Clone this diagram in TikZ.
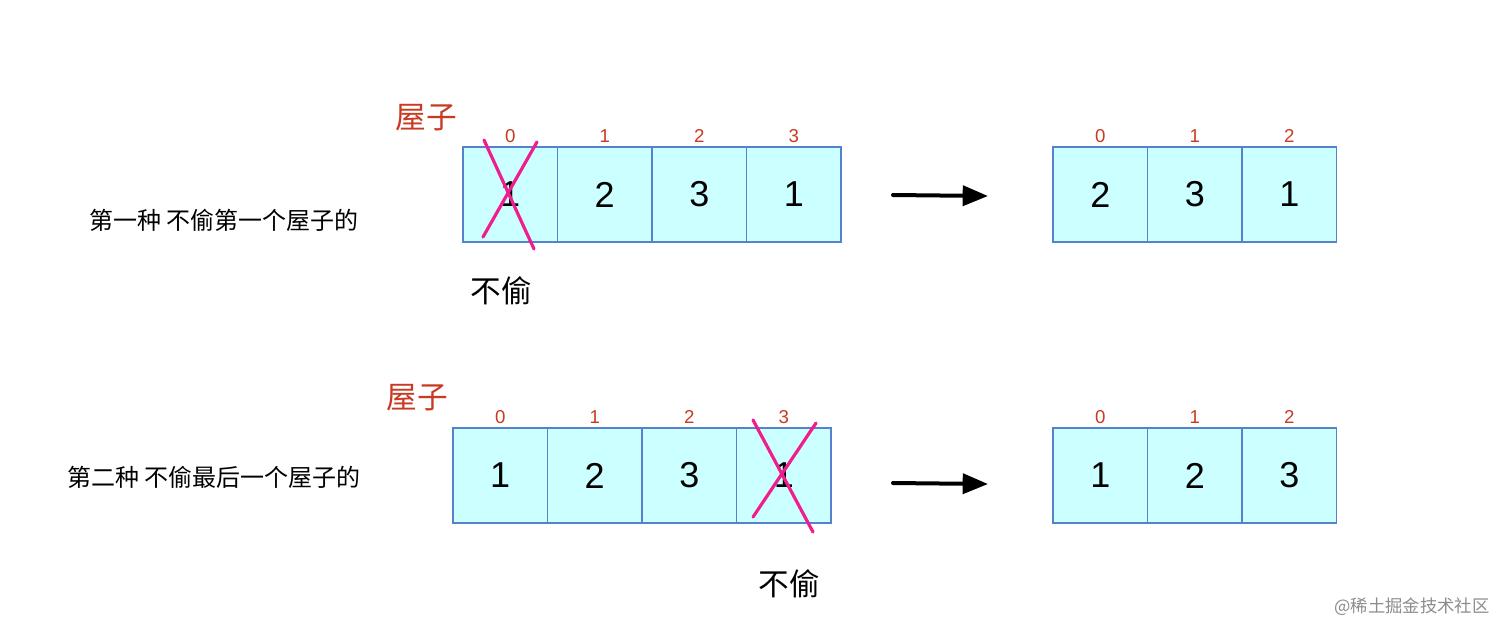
\documentclass[tikz,border=0pt]{standalone}
\usepackage{fontspec}
\setmainfont{Liberation Sans}
\newfontfamily\cjk{Noto Sans CJK SC}
\usetikzlibrary{arrows.meta}
\definecolor{cellfill}{HTML}{CCFFFF}
\definecolor{celldraw}{HTML}{5582CC}
\definecolor{lblred}{HTML}{C93A22}
\definecolor{crosspink}{HTML}{EE1E8E}
\tikzset{
  cell/.style={fill=cellfill, minimum width=70.875pt, minimum height=71.25pt, inner sep=0pt, outer sep=0pt, font=\fontsize{27}{27}\selectfont},
  cellborder/.style={draw=celldraw, line width=1.1pt},
  idx/.style={text=lblred, font=\fontsize{14}{14}\selectfont, inner sep=0pt},
  house/.style={text=lblred, font=\cjk\fontsize{23}{23}\selectfont, inner sep=0pt},
  caption/.style={font=\cjk\fontsize{18}{18}\selectfont, inner sep=0pt},
  nosteal/.style={font=\cjk\fontsize{23}{23}\selectfont, inner sep=0pt},
  cross/.style={draw=crosspink, line width=2.4pt, line cap=round},
  bigarrow/.style={line width=3pt, line cap=round, -{Triangle[length=19pt,width=15pt]}},
  wmark/.style={font=\cjk\fontsize{13}{13}\selectfont, text=black!45, inner sep=0pt}
}
\begin{document}
\begin{tikzpicture}[x=0.75pt,y=-0.75pt]
\useasboundingbox[fill=white] (0,0) rectangle (1512,640);
% ---- row 1 ----
\node[caption] (cap1) at (224,220) {第一种 不偷第一个屋子的};
\node[house] (h1) at (426,118) {屋子};
\foreach \i/\v/\x in {0/1/510.25,1/2/604.75,2/3/699.25,3/1/793.75}{
  \node[cell] (a\i) at (\x,194.5) {\v};
  \node[idx] at (\x,136) {\i};
}
\foreach \i/\v/\x in {0/2/1100.25,1/3/1194.75,2/1/1289.25}{
  \node[cell] (b\i) at (\x,194.5) {\v};
  \node[idx] at (\x,136) {\i};
}
% ---- row 2 ----
\node[caption] (cap2) at (214,477) {第二种 不偷最后一个屋子的};
\node[house] (h2) at (417,398) {屋子};
\foreach \i/\v/\x in {0/1/500.25,1/2/594.75,2/3/689.25,3/1/783.75}{
  \node[cell] (c\i) at (\x,475.5) {\v};
  \node[idx] at (\x,417) {\i};
}
\foreach \i/\v/\x in {0/1/1100.25,1/2/1194.75,2/3/1289.25}{
  \node[cell] (d\i) at (\x,475.5) {\v};
  \node[idx] at (\x,417) {\i};
}
% borders on top of fills
\foreach \n in {a0,a1,a2,a3,b0,b1,b2,c0,c1,c2,c3,d0,d1,d2}{
  \draw[cellborder] (\n.south west) rectangle (\n.north east);
}
% crosses
\coordinate (x1a) at (484,140);
\coordinate (x1b) at (534,249);
\coordinate (x1c) at (537,142);
\coordinate (x1d) at (483,237);
\draw[cross] (x1a) -- (x1b);
\draw[cross] (x1c) -- (x1d);
\node[nosteal] (ns1) at (501,291) {不偷};
\coordinate (x2a) at (753,420);
\coordinate (x2b) at (813,532);
\coordinate (x2c) at (816,423);
\coordinate (x2d) at (753,517);
\draw[cross] (x2a) -- (x2b);
\draw[cross] (x2c) -- (x2d);
\node[nosteal] (ns2) at (789,584) {不偷};
% arrows
\coordinate (ar1s) at (893,195);
\coordinate (ar1e) at (988,196);
\draw[bigarrow] (ar1s) -- (ar1e);
\coordinate (ar2s) at (893,483);
\coordinate (ar2e) at (988,484);
\draw[bigarrow] (ar2s) -- (ar2e);
\node[wmark] (wm) at (1412,607) {@稀土掘金技术社区};
\end{tikzpicture}
\end{document}
